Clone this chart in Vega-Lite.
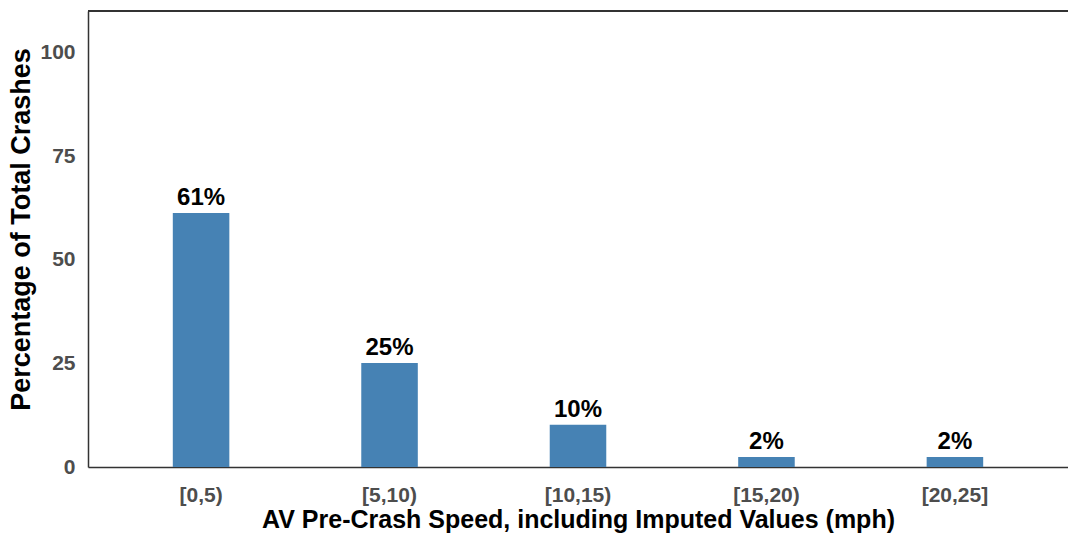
{
  "$schema": "https://vega.github.io/schema/vega-lite/v6.json",
  "autosize": "none",
  "width": 980,
  "height": 456,
  "padding": {"left": 88, "top": 11, "right": 0, "bottom": 66},
  "background": "white",
  "config": {
    "view": {"stroke": null},
    "font": "Liberation Sans"
  },
  "data": {
    "values": [
      {"speed": "[0,5)", "pct": 61.3, "label": "61%"},
      {"speed": "[5,10)", "pct": 25.1, "label": "25%"},
      {"speed": "[10,15)", "pct": 10.2, "label": "10%"},
      {"speed": "[15,20)", "pct": 2.4, "label": "2%"},
      {"speed": "[20,25]", "pct": 2.4, "label": "2%"}
    ]
  },
  "layer": [
    {
      "mark": {"type": "bar", "color": "#4682B4"},
      "encoding": {
        "x": {
          "field": "speed", "type": "nominal", "sort": null,
          "scale": {"paddingInner": 0.7, "paddingOuter": 0.45},
          "axis": {
            "title": "AV Pre-Crash Speed, including Imputed Values (mph)",
            "titleFont": "Liberation Sans", "titleFontSize": 25, "titleFontWeight": "bold", "titleColor": "#000000",
            "titlePadding": 2,
            "labelAngle": 0, "labelFont": "Liberation Sans", "labelFontSize": 21, "labelFontWeight": "bold", "labelColor": "#4D4D4D",
            "labelPadding": 17, "ticks": false,
            "domainColor": "#333333", "domainWidth": 1.5
          }
        },
        "y": {
          "field": "pct", "type": "quantitative",
          "scale": {"domain": [0, 110], "nice": false},
          "axis": {
            "title": "Percentage of Total Crashes",
            "titleFont": "Liberation Sans", "titleFontSize": 27, "titleFontWeight": "bold", "titleColor": "#000000",
            "titlePadding": 4, "titleY": 218,
            "values": [0, 25, 50, 75, 100],
            "labelFont": "Liberation Sans", "labelFontSize": 21, "labelFontWeight": "bold", "labelColor": "#4D4D4D",
            "labelPadding": 13, "ticks": false, "grid": false,
            "domainColor": "#333333", "domainWidth": 1.5
          }
        }
      }
    },
    {
      "mark": {"type": "text", "font": "Liberation Sans", "fontSize": 24, "fontWeight": "bold", "color": "#000000", "baseline": "alphabetic", "dy": -8},
      "encoding": {
        "x": {"field": "speed", "type": "nominal", "sort": null},
        "y": {"field": "pct", "type": "quantitative"},
        "text": {"field": "label"}
      }
    },
    {
      "mark": {"type": "rule", "color": "#333333", "strokeWidth": 1.5},
      "encoding": {"y": {"datum": 110}}
    }
  ]
}
